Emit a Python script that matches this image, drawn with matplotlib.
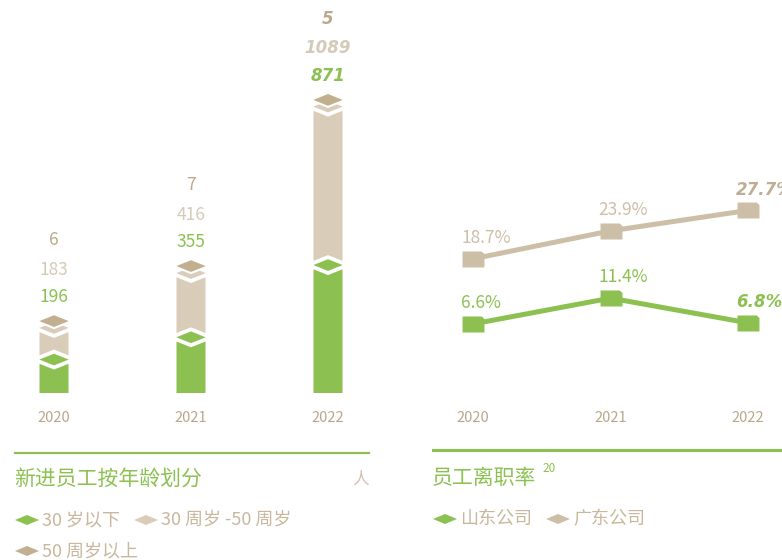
import numpy as np
import matplotlib.pyplot as plt
from matplotlib.path import Path
from matplotlib.patches import Polygon

plt.rcParams['font.family'] = ['Noto Sans CJK SC', 'DejaVu Sans']

# 新进员工按年龄划分 (人)
years = ['2020', '2021', '2022']
under_30 = [196, 355, 871]
age_30_50 = [183, 416, 1089]
over_50 = [6, 7, 5]

# 员工离职率 (%)
rate_shandong = [6.6, 11.4, 6.8]
rate_guangdong = [18.7, 23.9, 27.7]

GREEN = '#8CC152'
LIGHT = '#D9CDBA'
DARK = '#C1AF90'
LINE_BEIGE = '#CDBFA7'
YEAR_COL = '#B9A78B'
LEG_TXT = '#C8B79D'

W, H = 782, 560
fig = plt.figure(figsize=(W / 100, H / 100), dpi=100)


def px_box(x0, y0, x1, y1):
    return [x0 / W, 1 - y1 / H, (x1 - x0) / W, (y1 - y0) / H]


def clean(ax):
    for s in ax.spines.values():
        s.set_visible(False)
    ax.set_yticks([])
    ax.patch.set_alpha(0)


# ---------- 左图：堆叠柱 ----------
ax = fig.add_axes(px_box(0, 0, 370, 393))
clean(ax)
k = 0.14          # 像素/人
xstep = 137.0     # 像素/类别
ax.set_xlim(-54 / xstep, 316 / xstep)
ax.set_ylim(0, 393 / k)

bw, dw, dh, gap, step = 29, 35, 14, 3, 6   # 像素尺寸


def draw_stack(c, vals, cols):
    sx, sy = 1 / xstep, 1 / k
    n = dh / dw * bw / 2
    centers = np.cumsum(np.array(vals) * k + step)
    for j, (yc, col) in enumerate(zip(centers, cols)):
        top_c = yc - dh / 2 - gap
        if j == 0:
            bot_c, bot_s = 0, 0
        else:
            bot_c = centers[j - 1] + dh / 2 + gap
            bot_s = bot_c - n
        if top_c - bot_c > 1:
            pts = [(-bw / 2, bot_s), (0, bot_c), (bw / 2, bot_s),
                   (bw / 2, top_c + n), (0, top_c), (-bw / 2, top_c + n)]
            ax.add_patch(Polygon([(c + p * sx, q * sy) for p, q in pts],
                                 closed=True, fc=col, ec='none'))
    for yc, col in zip(centers, cols):
        pts = [(-dw / 2, yc), (0, yc - dh / 2), (dw / 2, yc), (0, yc + dh / 2)]
        ax.add_patch(Polygon([(c + p * sx, q * sy) for p, q in pts],
                             closed=True, fc=col, ec='white', lw=1.5,
                             joinstyle='miter'))
    return (centers[-1] + dh / 2) * sy


for i in range(len(years)):
    top = draw_stack(i, [under_30[i], age_30_50[i], over_50[i]], [GREEN, LIGHT, DARK])
    labs = [(under_30[i], GREEN, 12), (age_30_50[i], '#D5CAB8', 32), (over_50[i], '#BBA98C', 53)]
    for v, col, off in labs:
        if i == 2:
            kw = dict(family=['DejaVu Sans'], fontstyle='italic', fontweight='bold', fontsize=12)
        else:
            kw = dict(fontsize=12.5)
        ax.annotate(str(v), (i, top), xytext=(0, off), textcoords='offset points',
                    ha='center', va='center', color=col, **kw)

ax.set_xticks(range(len(years)), years)
ax.tick_params(axis='x', length=0, pad=13, labelsize=10.5, labelcolor=YEAR_COL)

# ---------- 右图：离职率 ----------
ax2 = fig.add_axes(px_box(420, 0, 782, 393))
clean(ax2)
ax2.set_xlim(-53 / 137.5, 309 / 137.5)
ax2.set_ylim(-6.23, 66.8)

mk = Path([(-1, -0.73), (1, -0.73), (1, 0.5), (0.75, 0.73), (-1, 0.73), (-1, -0.73)],
          [Path.MOVETO, Path.LINETO, Path.LINETO, Path.LINETO, Path.LINETO, Path.CLOSEPOLY])
xs = np.arange(len(years))
for rates, col in [(rate_guangdong, LINE_BEIGE), (rate_shandong, GREEN)]:
    ax2.plot(xs, rates, color=col, lw=3.6, marker=mk, ms=15.8, mfc=col, mec='none',
             solid_joinstyle='miter')
    for i, v in enumerate(rates):
        if i == 2:
            kw = dict(family=['DejaVu Sans'], fontstyle='italic', fontweight='bold',
                      fontsize=12, color='#BFAE93' if col == LINE_BEIGE else GREEN)
        else:
            kw = dict(fontsize=12.5, color=col)
        ax2.annotate(f'{v}%', (i, v), xytext=(-8.5, 15), textcoords='offset points',
                     ha='left', va='center', **kw)

ax2.set_xticks(xs, years)
ax2.tick_params(axis='x', length=0, pad=13, labelsize=10.5, labelcolor=YEAR_COL)

# ---------- 标题与图例 ----------
ov = fig.add_axes([0, 0, 1, 1])
ov.set_xlim(0, W)
ov.set_ylim(H, 0)
ov.axis('off')

ov.plot([15, 369], [453, 453], color=GREEN, lw=1.6)
ov.plot([433, 782], [450, 450], color=GREEN, lw=2.2)
ov.text(14, 479, '新进员工按年龄划分', fontsize=15, color=GREEN, va='center')
ov.text(369, 479, '人', fontsize=12, color='#CFC3B0', va='center', ha='right')
ov.text(432, 478, '员工离职率', fontsize=15, color=GREEN, va='center')
ov.text(542, 469, '20', fontsize=8.5, color=GREEN, va='center')


def leg_diamond(x0, y, col):
    ov.add_patch(Polygon([(x0, y), (x0 + 12, y - 5), (x0 + 24, y), (x0 + 12, y + 5)],
                         closed=True, fc=col, ec='none'))


legend_items = [(15, 520, GREEN, '30 岁以下'), (134, 520, LIGHT, '30 周岁 -50 周岁'),
                (15, 551, DARK, '50 周岁以上'), (433, 519, GREEN, '山东公司'),
                (546, 519, LINE_BEIGE, '广东公司')]
for x0, y, col, txt in legend_items:
    leg_diamond(x0, y, col)
    ov.text(x0 + 27, y, txt, fontsize=13, color=LEG_TXT, va='center')

fig.savefig('out.png', dpi=100)
